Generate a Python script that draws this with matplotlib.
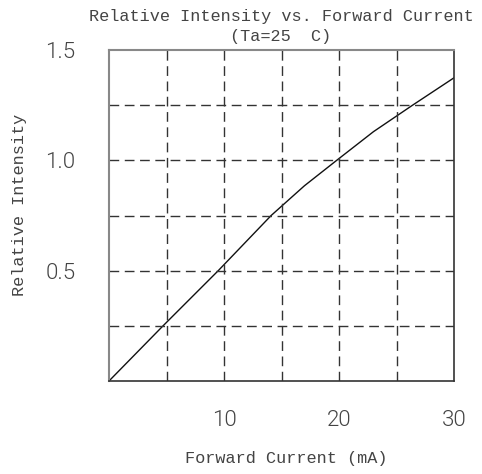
import matplotlib
matplotlib.use("Agg")
import matplotlib.pyplot as plt

# values (where it crosses the grid lines)
current_ma = [0, 4.7, 9.5, 14.1, 17.0, 19.8, 23.0, 26.4, 30]
rel_intensity = [0.0, 0.25, 0.5, 0.75, 0.885, 1.0, 1.13, 1.25, 1.374]

x_ticks = [10, 20, 30]
y_ticks = [0.5, 1.0, 1.5]
x_grid = [5, 10, 15, 20, 25]
y_grid = [0.25, 0.5, 0.75, 1.0, 1.25]

mono = ['Liberation Mono', 'DejaVu Sans Mono']
thin = ['Roboto', 'Open Sans', 'DejaVu Sans']

fig = plt.figure(figsize=(4.82, 4.74), dpi=100)
ax = fig.add_axes([109 / 482, 1 - 381 / 474, 345 / 482, 331 / 474])

ax.plot(current_ma, rel_intensity, color='#111111', lw=1.0)

for g in x_grid:
    ax.axvline(g, color='#333333', lw=1.0, ls=(0, (7, 4)))
for g in y_grid:
    ax.axhline(g, color='#333333', lw=1.0, ls=(0, (7, 4)))

ax.set_xlim(0, 30)
ax.set_ylim(0, 1.5)
ax.set_xticks(x_ticks)
ax.set_xticklabels([str(v) for v in x_ticks], family=thin, fontweight=300,
                   fontsize=16, color='#444444')
ax.set_yticks(y_ticks)
ax.set_yticklabels(['%.1f' % v for v in y_ticks], family=thin, fontweight=300,
                   fontsize=16, color='#444444')
ax.tick_params(axis='x', length=0, pad=21)
ax.tick_params(axis='y', length=0, pad=24)

for s in ['top', 'left']:
    ax.spines[s].set_color('#888888')
    ax.spines[s].set_linewidth(1.5)
for s in ['bottom', 'right']:
    ax.spines[s].set_color('#333333')
    ax.spines[s].set_linewidth(1.2)

txt = dict(family=mono, fontsize=12.2, color='#444444', ha='center', va='center')
fig.text(281 / 482, 1 - 17 / 474, 'Relative Intensity vs. Forward Current', **txt)
fig.text(281 / 482, 1 - 37 / 474, '(Ta=25  C)', **txt)
fig.text(286 / 482, 1 - 459 / 474, 'Forward Current (mA)', **txt)
fig.text(20 / 482, 1 - 205 / 474, 'Relative Intensity', rotation=90, **txt)

fig.savefig('out.png', dpi=100)
